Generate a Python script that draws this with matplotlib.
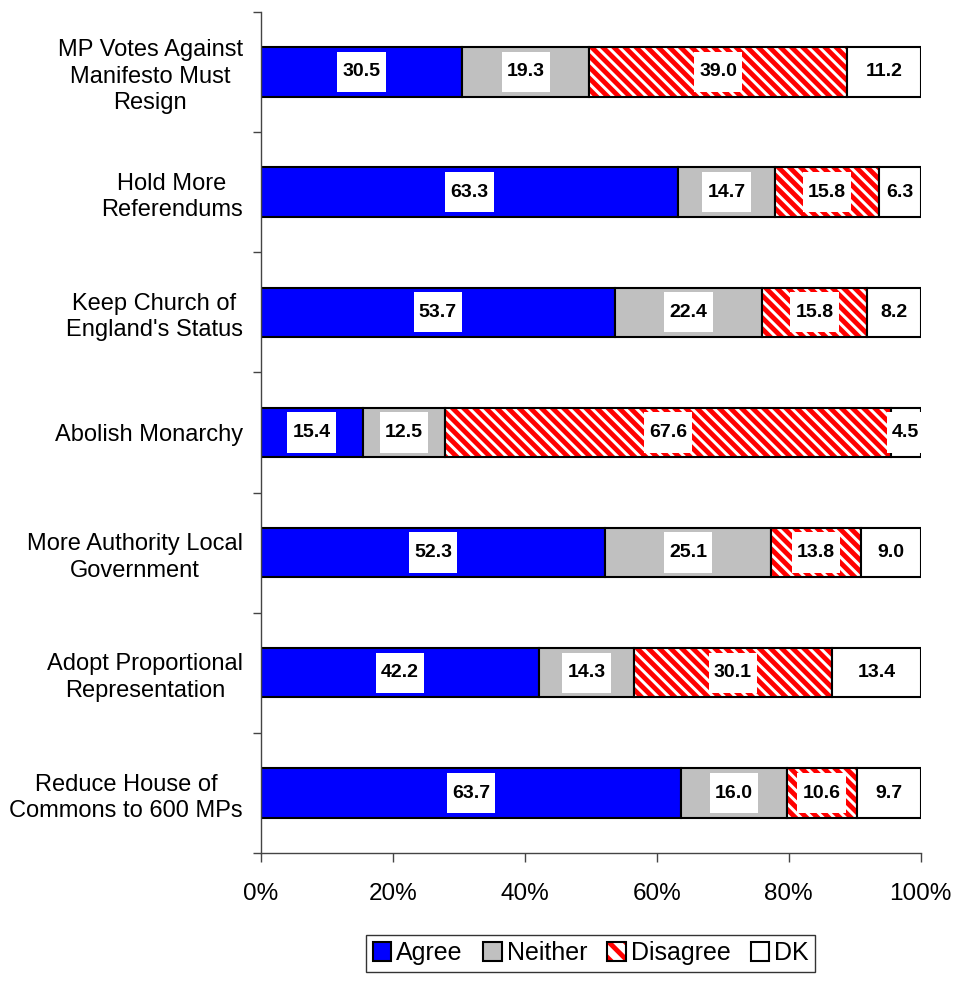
import numpy as np
import matplotlib.pyplot as plt
from matplotlib.patches import Patch
from matplotlib.path import Path

plt.rcParams['font.family'] = ['Liberation Sans', 'DejaVu Sans']
plt.rcParams['hatch.linewidth'] = 3.5

questions = ['MP Votes Against\nManifesto Must\nResign',
             'Hold More\nReferendums',
             'Keep Church of\nEngland\'s Status',
             'Abolish Monarchy',
             'More Authority Local\nGovernment',
             'Adopt Proportional\nRepresentation',
             'Reduce House of\nCommons to 600 MPs']
agree = [30.5, 63.3, 53.7, 15.4, 52.3, 42.2, 63.7]
neither = [19.3, 14.7, 22.4, 12.5, 25.1, 14.3, 16.0]
disagree = [39.0, 15.8, 15.8, 67.6, 13.8, 30.1, 10.6]
dk = [11.2, 6.3, 8.2, 4.5, 9.0, 13.4, 9.7]

series = [('Agree', agree, '#0000FF', None),
          ('Neither', neither, '#C0C0C0', None),
          ('Disagree', disagree, 'white', '\\\\\\'),
          ('DK', dk, 'white', None)]


def label_box(x0, y0, width, height, mutation_size):
    # white box around the value, taller than a plain pad would give
    px = 0.27 * mutation_size
    py = 0.6 * mutation_size
    x0, x1 = x0 - px, x0 + width + px
    y0, y1 = y0 - py, y0 + height + py
    return Path([(x0, y0), (x1, y0), (x1, y1), (x0, y1), (x0, y0)], closed=True)


fig = plt.figure(figsize=(9.56, 9.84), dpi=100)
ax = fig.add_axes([0.273, 0.133, 0.690, 0.855])

data = np.array([agree, neither, disagree, dk])
totals = data.sum(axis=0)
y = np.arange(len(questions))

left = np.zeros(len(questions))
for name, vals, color, hatch in series:
    vals = np.array(vals)
    width = vals / totals * 100
    if hatch:
        # red stripes first, black outline on top
        ax.barh(y, width, left=left, height=0.41, color='white', edgecolor='#FF0000',
                linewidth=0, hatch=hatch)
        ax.barh(y, width, left=left, height=0.41, fill=False, edgecolor='black',
                linewidth=1.5)
    else:
        ax.barh(y, width, left=left, height=0.41, color=color, edgecolor='black',
                linewidth=1.5)
    for yi, l, w, v in zip(y, left, width, vals):
        ax.text(l + w / 2, yi, f'{v:.1f}', ha='center', va='center',
                fontsize=14, fontweight='bold', zorder=5,
                bbox=dict(boxstyle=label_box, facecolor='white', edgecolor='none'))
    left = left + width

ax.set_xlim(0, 100)
ax.set_ylim(len(questions) - 0.5, -0.5)
ax.set_xticks(np.arange(0, 101, 20))
ax.set_xticklabels([f'{t}%' for t in range(0, 101, 20)])
ax.set_yticks(y)
ax.set_yticklabels(questions, multialignment='center', linespacing=1.27)
ax.set_yticks(np.arange(-0.5, len(questions)), minor=True)
ax.tick_params(axis='y', which='major', length=0, pad=13, labelsize=17)
ax.tick_params(axis='y', which='minor', length=6, width=1, color='#444444')
ax.tick_params(axis='x', length=6.5, width=1, color='#444444', labelsize=17.5, pad=15)
ax.spines['top'].set_visible(False)
ax.spines['right'].set_visible(False)
for s in ['left', 'bottom']:
    ax.spines[s].set_linewidth(1)
    ax.spines[s].set_color('#444444')

handles = [Patch(facecolor=c, edgecolor='black', linewidth=1.5, label=n)
           for n, _, c, h in series]
handles[2] = (Patch(facecolor='white', edgecolor='#FF0000', linewidth=0, hatch='\\\\'),
              Patch(fill=False, edgecolor='black', linewidth=1.5))
labels = [n for n, _, _, _ in series]
leg = fig.legend(handles=handles, labels=labels, loc='lower center',
                 bbox_to_anchor=(0.618, 0.0),
                 ncol=4, fontsize=18, frameon=True, fancybox=False,
                 handlelength=0.75, handleheight=0.75, handletextpad=0.2,
                 columnspacing=0.8, borderpad=0.25)
leg.get_frame().set_edgecolor('black')
leg.get_frame().set_linewidth(1)

fig.savefig('out.png', dpi=100)
